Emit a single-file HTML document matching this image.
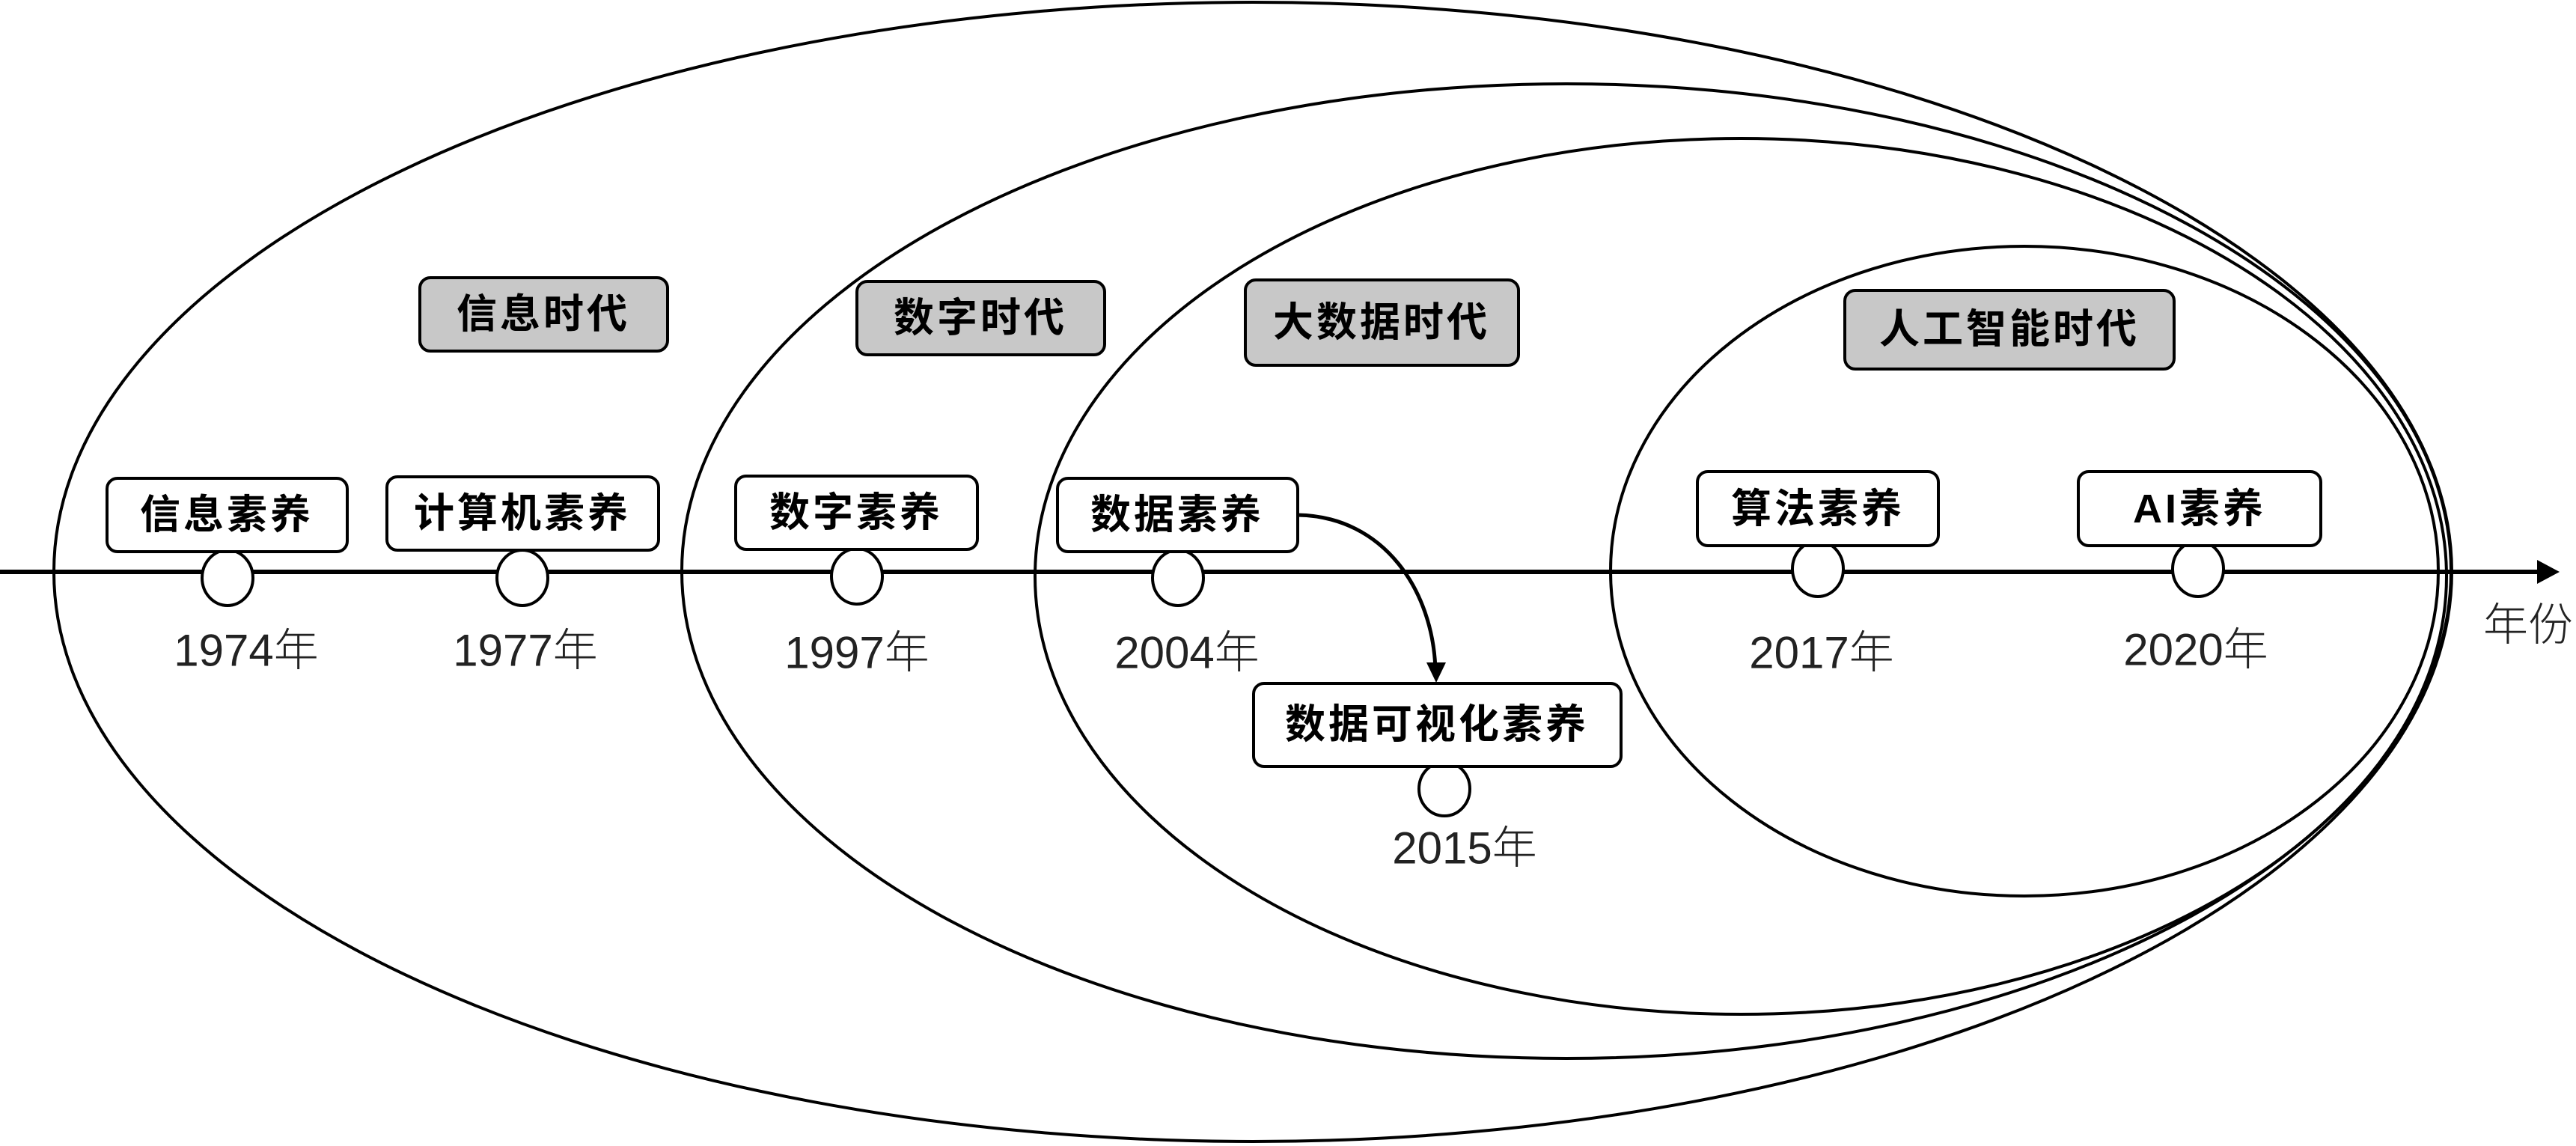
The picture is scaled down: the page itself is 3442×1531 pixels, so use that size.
<!DOCTYPE html>
<html><head><meta charset="utf-8"><style>
html,body{margin:0;padding:0;background:#fff;}
svg{display:block;}
.b{font-family:"Liberation Sans","Noto Sans CJK SC",sans-serif;font-size:54px;font-weight:bold;text-anchor:middle;dominant-baseline:central;fill:#000;letter-spacing:4px;}
.y{font-family:"Liberation Sans","Noto Sans CJK SC",sans-serif;font-size:60px;font-weight:300;text-anchor:middle;dominant-baseline:central;fill:#222;}
</style></head><body>
<svg width="3442" height="1531" viewBox="0 0 3442 1531" xmlns="http://www.w3.org/2000/svg">
<g fill="none" stroke="#000" stroke-width="4">
<ellipse cx="1674" cy="764" rx="1602" ry="761"/>
<ellipse cx="2093" cy="763" rx="1182" ry="651"/>
<ellipse cx="2326" cy="770" rx="943" ry="585"/>
<ellipse cx="2705" cy="763" rx="553" ry="434"/>
</g>
<line x1="0" y1="764" x2="3395" y2="764" stroke="#000" stroke-width="6"/>
<path d="M3390,748 L3420,764 L3390,780 z" fill="#000"/>
<g fill="#fff" stroke="#000" stroke-width="4">
<ellipse cx="304" cy="772" rx="34" ry="37"/>
<ellipse cx="698" cy="772" rx="34" ry="37"/>
<ellipse cx="1145" cy="770" rx="34" ry="37"/>
<ellipse cx="1574" cy="772" rx="34" ry="37"/>
<ellipse cx="2429" cy="760" rx="34" ry="37"/>
<ellipse cx="2937" cy="760" rx="34" ry="37"/>
<ellipse cx="1930" cy="1054" rx="34" ry="36"/>
</g>
<g stroke="#000" stroke-width="4">
<rect x="561" y="371" width="331" height="98" rx="14" fill="#c8c8c8"/>
<rect x="1145" y="376" width="331" height="98" rx="14" fill="#c8c8c8"/>
<rect x="1664" y="374" width="365" height="114" rx="14" fill="#c8c8c8"/>
<rect x="2465" y="388" width="440" height="105" rx="14" fill="#c8c8c8"/>
<rect x="143" y="639" width="321" height="98" rx="14" fill="#fff"/>
<rect x="517" y="637" width="363" height="98" rx="14" fill="#fff"/>
<rect x="983" y="636" width="323" height="98" rx="14" fill="#fff"/>
<rect x="1413" y="639" width="321" height="98" rx="14" fill="#fff"/>
<rect x="2268" y="630" width="322" height="99" rx="14" fill="#fff"/>
<rect x="2777" y="630" width="324" height="99" rx="14" fill="#fff"/>
<rect x="1675" y="913" width="491" height="111" rx="14" fill="#fff"/>
</g>
<path d="M1734,688 C1850,690 1915,790 1918,895" fill="none" stroke="#000" stroke-width="5"/>
<path d="M1906,885 L1919,912 L1932,885 z" fill="#000"/>
<text class="b" x="726" y="420">信息时代</text>
<text class="b" x="1310" y="425">数字时代</text>
<text class="b" x="1846" y="431">大数据时代</text>
<text class="b" x="2685" y="440">人工智能时代</text>
<text class="b" x="303" y="688">信息素养</text>
<text class="b" x="698" y="686">计算机素养</text>
<text class="b" x="1144" y="685">数字素养</text>
<text class="b" x="1573" y="688">数据素养</text>
<text class="b" x="2429" y="680">算法素养</text>
<text class="b" x="2939" y="680">AI素养</text>
<text class="b" x="1920" y="968">数据可视化素养</text>
<text class="y" x="329" y="869">1974年</text>
<text class="y" x="702" y="869">1977年</text>
<text class="y" x="1145" y="872">1997年</text>
<text class="y" x="1586" y="872">2004年</text>
<text class="y" x="2434" y="872">2017年</text>
<text class="y" x="2934" y="868">2020年</text>
<text class="y" x="1957" y="1133">2015年</text>
<text class="y" x="3378" y="835">年份</text>
</svg>
</body></html>
